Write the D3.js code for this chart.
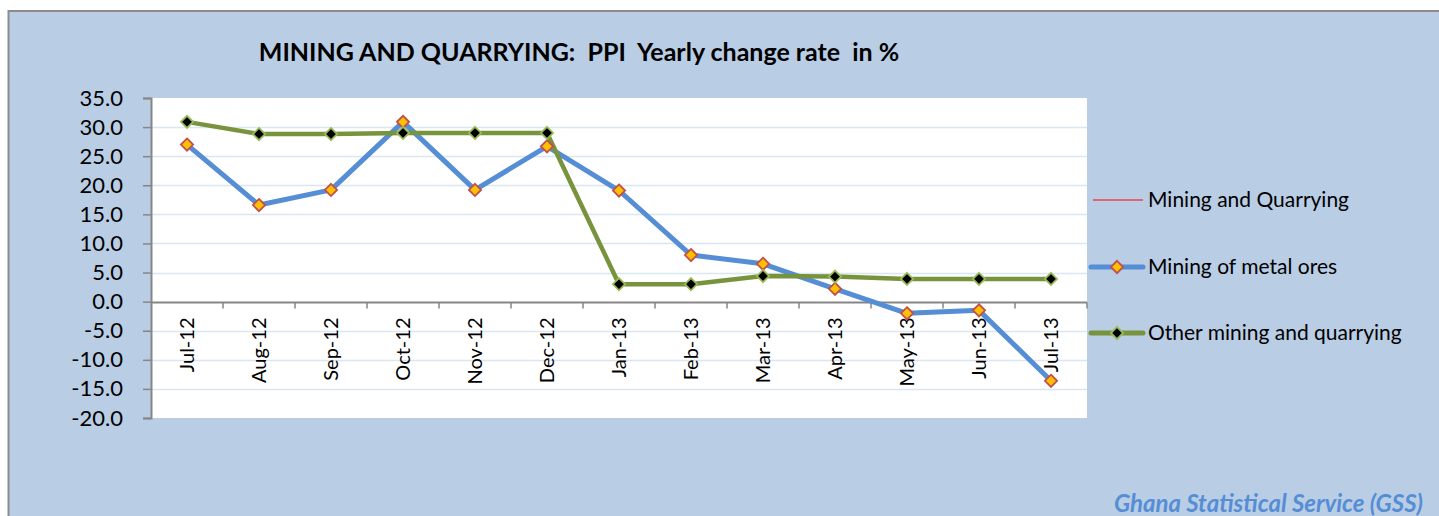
<!DOCTYPE html>
<html>
<head>
<meta charset="utf-8">
<script src="https://cdn.jsdelivr.net/npm/d3@7"></script>
<style>
body { margin: 0; background: #fff; }
svg { display: block; font-family: Lato, "Open Sans", sans-serif; }
</style>
</head>
<body>
<script>
var months = ["Jul-12", "Aug-12", "Sep-12", "Oct-12", "Nov-12", "Dec-12", "Jan-13",
  "Feb-13", "Mar-13", "Apr-13", "May-13", "Jun-13", "Jul-13"];

var miningQuarrying = [27.0, 16.7, 19.3, 30.9, 19.3, 26.5, 18.8, 8.0, 6.5, 2.3, -2.0, -1.5, -13.6];
var metalOres = [27.0, 16.6, 19.2, 30.9, 19.2, 26.7, 19.1, 8.0, 6.5, 2.2, -2.0, -1.5, -13.6];
var otherMining = [30.9, 28.8, 28.8, 29.0, 29.0, 29.0, 3.0, 3.0, 4.4, 4.3, 3.9, 3.9, 3.9];

var yTicks = [35, 30, 25, 20, 15, 10, 5, 0, -5, -10, -15, -20];

var seriesNames = ["Mining and Quarrying", "Mining of metal ores", "Other mining and quarrying"];

var W = 1439, H = 516;
var plotLeft = 151, plotRight = 1087, plotTop = 98, plotBottom = 418;

var svg = d3.select("body").append("svg")
  .attr("width", W)
  .attr("height", H);

// chart frame
svg.append("rect")
  .attr("x", 8.5).attr("y", 11)
  .attr("width", W).attr("height", H)
  .attr("fill", "#b9cde5")
  .attr("stroke", "#8c8c8c")
  .attr("stroke-width", 2);

// plot area
svg.append("rect")
  .attr("x", plotLeft).attr("y", plotTop)
  .attr("width", plotRight - plotLeft).attr("height", plotBottom - plotTop)
  .attr("fill", "#ffffff");

var x = d3.scaleBand().domain(months).range([plotLeft, plotRight]);
var y = d3.scaleLinear().domain([-20, 35]).range([plotBottom, plotTop]);

// gridlines
svg.append("g").selectAll("line")
  .data(yTicks.filter(function (d) { return d < 35 && d > -20 && d !== 0; }))
  .enter().append("line")
  .attr("x1", plotLeft).attr("x2", plotRight)
  .attr("y1", function (d) { return Math.round(y(d)) + 0.5; })
  .attr("y2", function (d) { return Math.round(y(d)) + 0.5; })
  .attr("stroke", "#dce6f2")
  .attr("stroke-width", 1.5);

// y axis
var yAxis = svg.append("g")
  .attr("transform", "translate(" + plotLeft + ",0)")
  .call(d3.axisLeft(y).tickValues(yTicks)
    .tickFormat(function (d) { return d.toFixed(1); })
    .tickSize(8).tickPadding(20));
yAxis.select(".domain").attr("stroke", "#868686").attr("stroke-width", 2);
yAxis.selectAll(".tick line").attr("stroke", "#868686").attr("stroke-width", 1.5);
yAxis.selectAll("text")
  .attr("font-family", "Lato, sans-serif")
  .attr("font-size", 22)
  .attr("fill", "#000");

// category axis at zero
var y0 = Math.round(y(0)) + 0.5;
svg.append("line")
  .attr("x1", plotLeft).attr("x2", plotRight)
  .attr("y1", y0).attr("y2", y0)
  .attr("stroke", "#868686").attr("stroke-width", 2);

svg.append("g").selectAll("line")
  .data(months)
  .enter().append("line")
  .attr("x1", function (d) { return x(d) + x.bandwidth(); })
  .attr("x2", function (d) { return x(d) + x.bandwidth(); })
  .attr("y1", y0).attr("y2", y0 + 6)
  .attr("stroke", "#868686").attr("stroke-width", 1.5);

svg.append("g").selectAll("text")
  .data(months)
  .enter().append("text")
  .attr("transform", function (d) {
    return "translate(" + (x(d) + x.bandwidth() / 2 + 7) + "," + (y0 + 15) + ") rotate(-90)";
  })
  .attr("text-anchor", "end")
  .attr("font-size", 20)
  .attr("font-family", "Lato, sans-serif")
  .attr("fill", "#000")
  .text(function (d) { return d; });

var line = d3.line()
  .x(function (d, i) { return x(months[i]) + x.bandwidth() / 2; })
  .y(function (d) { return y(d); });

var diamond = d3.symbol().type(d3.symbolDiamond2).size(95);

// Mining and Quarrying (thin red)
svg.append("path")
  .datum(miningQuarrying)
  .attr("d", line)
  .attr("fill", "none")
  .attr("stroke", "#ff0000")
  .attr("stroke-width", 1.2);

// Mining of metal ores
svg.append("path")
  .datum(metalOres)
  .attr("d", line)
  .attr("fill", "none")
  .attr("stroke", "#558ed5")
  .attr("stroke-width", 5)
  .attr("stroke-linejoin", "round");

// Other mining and quarrying
svg.append("path")
  .datum(otherMining)
  .attr("d", line)
  .attr("fill", "none")
  .attr("stroke", "#77933c")
  .attr("stroke-width", 4.5)
  .attr("stroke-linejoin", "round");

svg.append("g").selectAll("path")
  .data(metalOres)
  .enter().append("path")
  .attr("transform", function (d, i) {
    return "translate(" + (x(months[i]) + x.bandwidth() / 2) + "," + y(d) + ")";
  })
  .attr("d", diamond)
  .attr("fill", "#ffc000")
  .attr("stroke", "#c0504d")
  .attr("stroke-width", 1.8);

svg.append("g").selectAll("path")
  .data(otherMining)
  .enter().append("path")
  .attr("transform", function (d, i) {
    return "translate(" + (x(months[i]) + x.bandwidth() / 2) + "," + y(d) + ")";
  })
  .attr("d", diamond)
  .attr("fill", "#000000")
  .attr("stroke", "#9bbb59")
  .attr("stroke-width", 1.8);

// title
svg.append("text")
  .attr("x", 579).attr("y", 61)
  .attr("text-anchor", "middle")
  .attr("font-size", 25)
  .attr("font-weight", "bold")
  .attr("fill", "#000")
  .attr("xml:space", "preserve")
  .style("white-space", "pre")
  .text("MINING AND QUARRYING:  PPI  Yearly change rate  in %");

// legend
var legendY = [200, 267, 333];
var lg = svg.append("g").selectAll("g")
  .data(seriesNames)
  .enter().append("g")
  .attr("transform", function (d, i) { return "translate(1091," + legendY[i] + ")"; });

lg.append("line")
  .attr("x1", function (d, i) { return i === 0 ? 2 : 0; })
  .attr("x2", 52)
  .attr("stroke", function (d, i) { return ["#ff0000", "#558ed5", "#77933c"][i]; })
  .attr("stroke-width", function (d, i) { return i === 0 ? 1.2 : 5; })
  .attr("stroke-linecap", function (d, i) { return i === 0 ? "butt" : "round"; });

lg.filter(function (d, i) { return i > 0; })
  .append("path")
  .attr("transform", "translate(26,0)")
  .attr("d", diamond)
  .attr("fill", function (d, i) { return i === 0 ? "#ffc000" : "#000"; })
  .attr("stroke", function (d, i) { return i === 0 ? "#c0504d" : "#9bbb59"; })
  .attr("stroke-width", 1.8);

lg.append("text")
  .attr("x", 57).attr("y", 7)
  .attr("font-size", 21)
  .attr("fill", "#000")
  .text(function (d) { return d; });

// source
svg.append("text")
  .attr("x", 1423).attr("y", 512)
  .attr("text-anchor", "end")
  .attr("font-size", 24)
  .attr("font-weight", "bold")
  .attr("font-style", "italic")
  .attr("fill", "#558ed5")
  .text("Ghana Statistical Service (GSS)");
</script>
</body>
</html>
